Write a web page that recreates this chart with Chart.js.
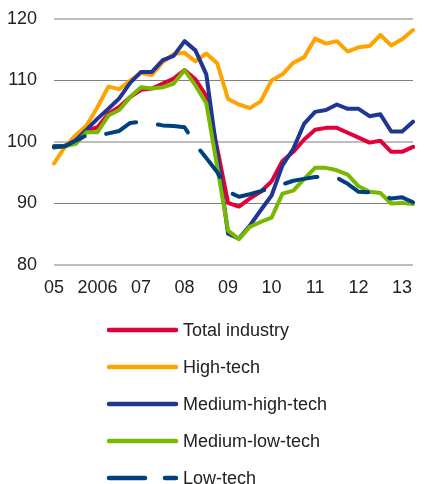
<!DOCTYPE html>
<html>
<head>
<meta charset="utf-8">
<script src="https://cdn.jsdelivr.net/npm/chart.js@4.4.1/dist/chart.umd.min.js"></script>
<style>
  html, body { margin: 0; padding: 0; background: #fff; }
  #wrap { position: relative; width: 425px; height: 484px; overflow: hidden; }
  #legend { position: absolute; left: 0; top: 0; width: 425px; height: 484px; pointer-events: none;
            font-family: "Liberation Sans", Arial, sans-serif; font-size: 18px; color: #222; }
  .item { position: absolute; left: 106px; height: 20px; display: flex; align-items: center; }
  .item svg { width: 74px; height: 10px; margin-right: 3px; }
</style>
</head>
<body>
<div id="wrap">
  <canvas id="chart" width="425" height="484"></canvas>
  <div id="legend"></div>
</div>
<script>
document.addEventListener("DOMContentLoaded", () => {
  // quarterly, 2005Q1 .. 2013Q2
  const quarters = [];
  for (let y = 2005; y <= 2013; y++) {
    for (let q = 1; q <= 4; q++) {
      if (y === 2013 && q > 2) break;
      quarters.push(y + "Q" + q);
    }
  }
  const yearTicks = ["05", "2006", "07", "08", "09", "10", "11", "12", "13"];

  const totalIndustry = [99.2, 99.4, 100.2, 101.8, 102.4, 104.6, 105.7, 107.3, 108.5, 108.7, 109.5, 110.3,
    111.7, 110.2, 107.5, 99.0, 90.1, 89.5, 90.8, 91.9, 93.6, 96.9, 98.4, 100.4,
    102.0, 102.3, 102.3, 101.5, 100.7, 99.9, 100.2, 98.4, 98.4, 99.2];
  const highTech = [96.5, 99.2, 101.1, 102.7, 105.7, 109.0, 108.6, 110.0, 111.2, 110.9, 113.0, 114.3,
    114.5, 113.1, 114.4, 112.8, 107.0, 106.1, 105.5, 106.6, 110.0, 111.0, 112.9, 113.8,
    116.8, 116.0, 116.4, 114.7, 115.4, 115.6, 117.4, 115.7, 116.7, 118.2];
  const mediumHighTech = [99.1, 99.3, 100.3, 102.0, 103.8, 105.4, 107.1, 109.6, 111.4, 111.4, 113.3, 114.0,
    116.4, 114.9, 111.0, 98.0, 85.1, 84.3, 86.4, 88.9, 91.3, 96.2, 98.9, 103.0,
    104.9, 105.2, 106.1, 105.4, 105.4, 104.2, 104.5, 101.7, 101.7, 103.3];
  const mediumLowTech = [99.3, 99.3, 99.7, 101.6, 101.6, 104.3, 105.2, 107.3, 108.9, 108.7, 108.9, 109.5,
    111.7, 109.2, 106.3, 96.0, 85.6, 84.2, 86.2, 87.0, 87.7, 91.6, 92.1, 94.0,
    95.8, 95.8, 95.4, 94.7, 92.8, 91.9, 91.7, 90.0, 90.1, 89.9];
  const lowTech = [99.3, 99.3, 100.2, 101.1, 101.0, 101.4, 101.8, 103.1, 103.3, 103.0, 102.7, 102.6,
    102.4, 99.6, 97.4, 95.1, 91.9, 91.1, 91.5, 92.0, 92.6, 93.1, 93.7, 94.0,
    94.3, 94.4, 94.2, 93.2, 91.9, 91.8, 91.4, 90.8, 91.0, 90.2];

  const seriesNames = ["Total industry", "High-tech", "Medium-high-tech", "Medium-low-tech", "Low-tech"];
  const seriesData = [totalIndustry, highTech, mediumHighTech, mediumLowTech, lowTech];
  const colors = ["#e2003a", "#ffa300", "#1f3693", "#78b800", "#004080"];

  const font = { family: "'Liberation Sans', Arial, sans-serif", size: 18 };

  const datasets = seriesNames.map((name, i) => ({
    label: name,
    data: seriesData[i],
    borderColor: colors[i],
    borderWidth: 4,
    borderDash: i === 4 ? [33, 22] : [],
    borderCapStyle: "round",
    borderJoinStyle: "round",
    pointRadius: 0,
    tension: 0,
    fill: false,
    order: seriesNames.length - i   // later series drawn on top
  }));

  new Chart(document.getElementById("chart"), {
    type: "line",
    data: { labels: quarters, datasets: datasets },
    options: {
      responsive: false,
      animation: false,
      devicePixelRatio: 1,
      layout: { padding: { top: 19, right: 1, bottom: 185, left: 0 } },
      plugins: { legend: { display: false }, tooltip: { enabled: false } },
      scales: {
        x: {
          offset: false,
          border: { display: false },
          grid: { display: false, drawTicks: false },
          ticks: {
            autoSkip: false, maxRotation: 0, padding: 12, color: "#222", font: font,
            callback: (v, i) => (i % 4 === 0 ? yearTicks[i / 4] : "")
          },
          afterFit: s => { s.height = 34; }
        },
        y: {
          min: 80, max: 120,
          border: { display: false },
          grid: {
            drawTicks: false,
            color: c => (c.tick.value === 110 || c.tick.value === 90) ? "#808080" : "#bdbdbd",
            lineWidth: c => (c.tick.value === 110 || c.tick.value === 90) ? 1 : 2
          },
          ticks: { stepSize: 10, padding: 17, color: "#222", font: font },
          // tick padding is horizontal only here, keep it out of the top/bottom room
          afterFit: s => { s.width = 54; s.paddingTop = 11; s.paddingBottom = 11; }
        }
      }
    }
  });

  // legend, one entry per row
  const legend = document.getElementById("legend");
  const rowY = [330, 367, 404, 441, 478];
  datasets.forEach((ds, i) => {
    const dash = ds.borderDash.length ? 'stroke-dasharray="36 20"' : "";
    legend.innerHTML += `
      <div class="item" style="top:${rowY[i] - 10}px">
        <svg viewBox="0 0 74 10"><line x1="3" y1="5" x2="70" y2="5" stroke="${ds.borderColor}"
          stroke-width="4.5" stroke-linecap="round" ${dash}/></svg>
        <span>${ds.label}</span>
      </div>`;
  });
});
</script>
</body>
</html>
